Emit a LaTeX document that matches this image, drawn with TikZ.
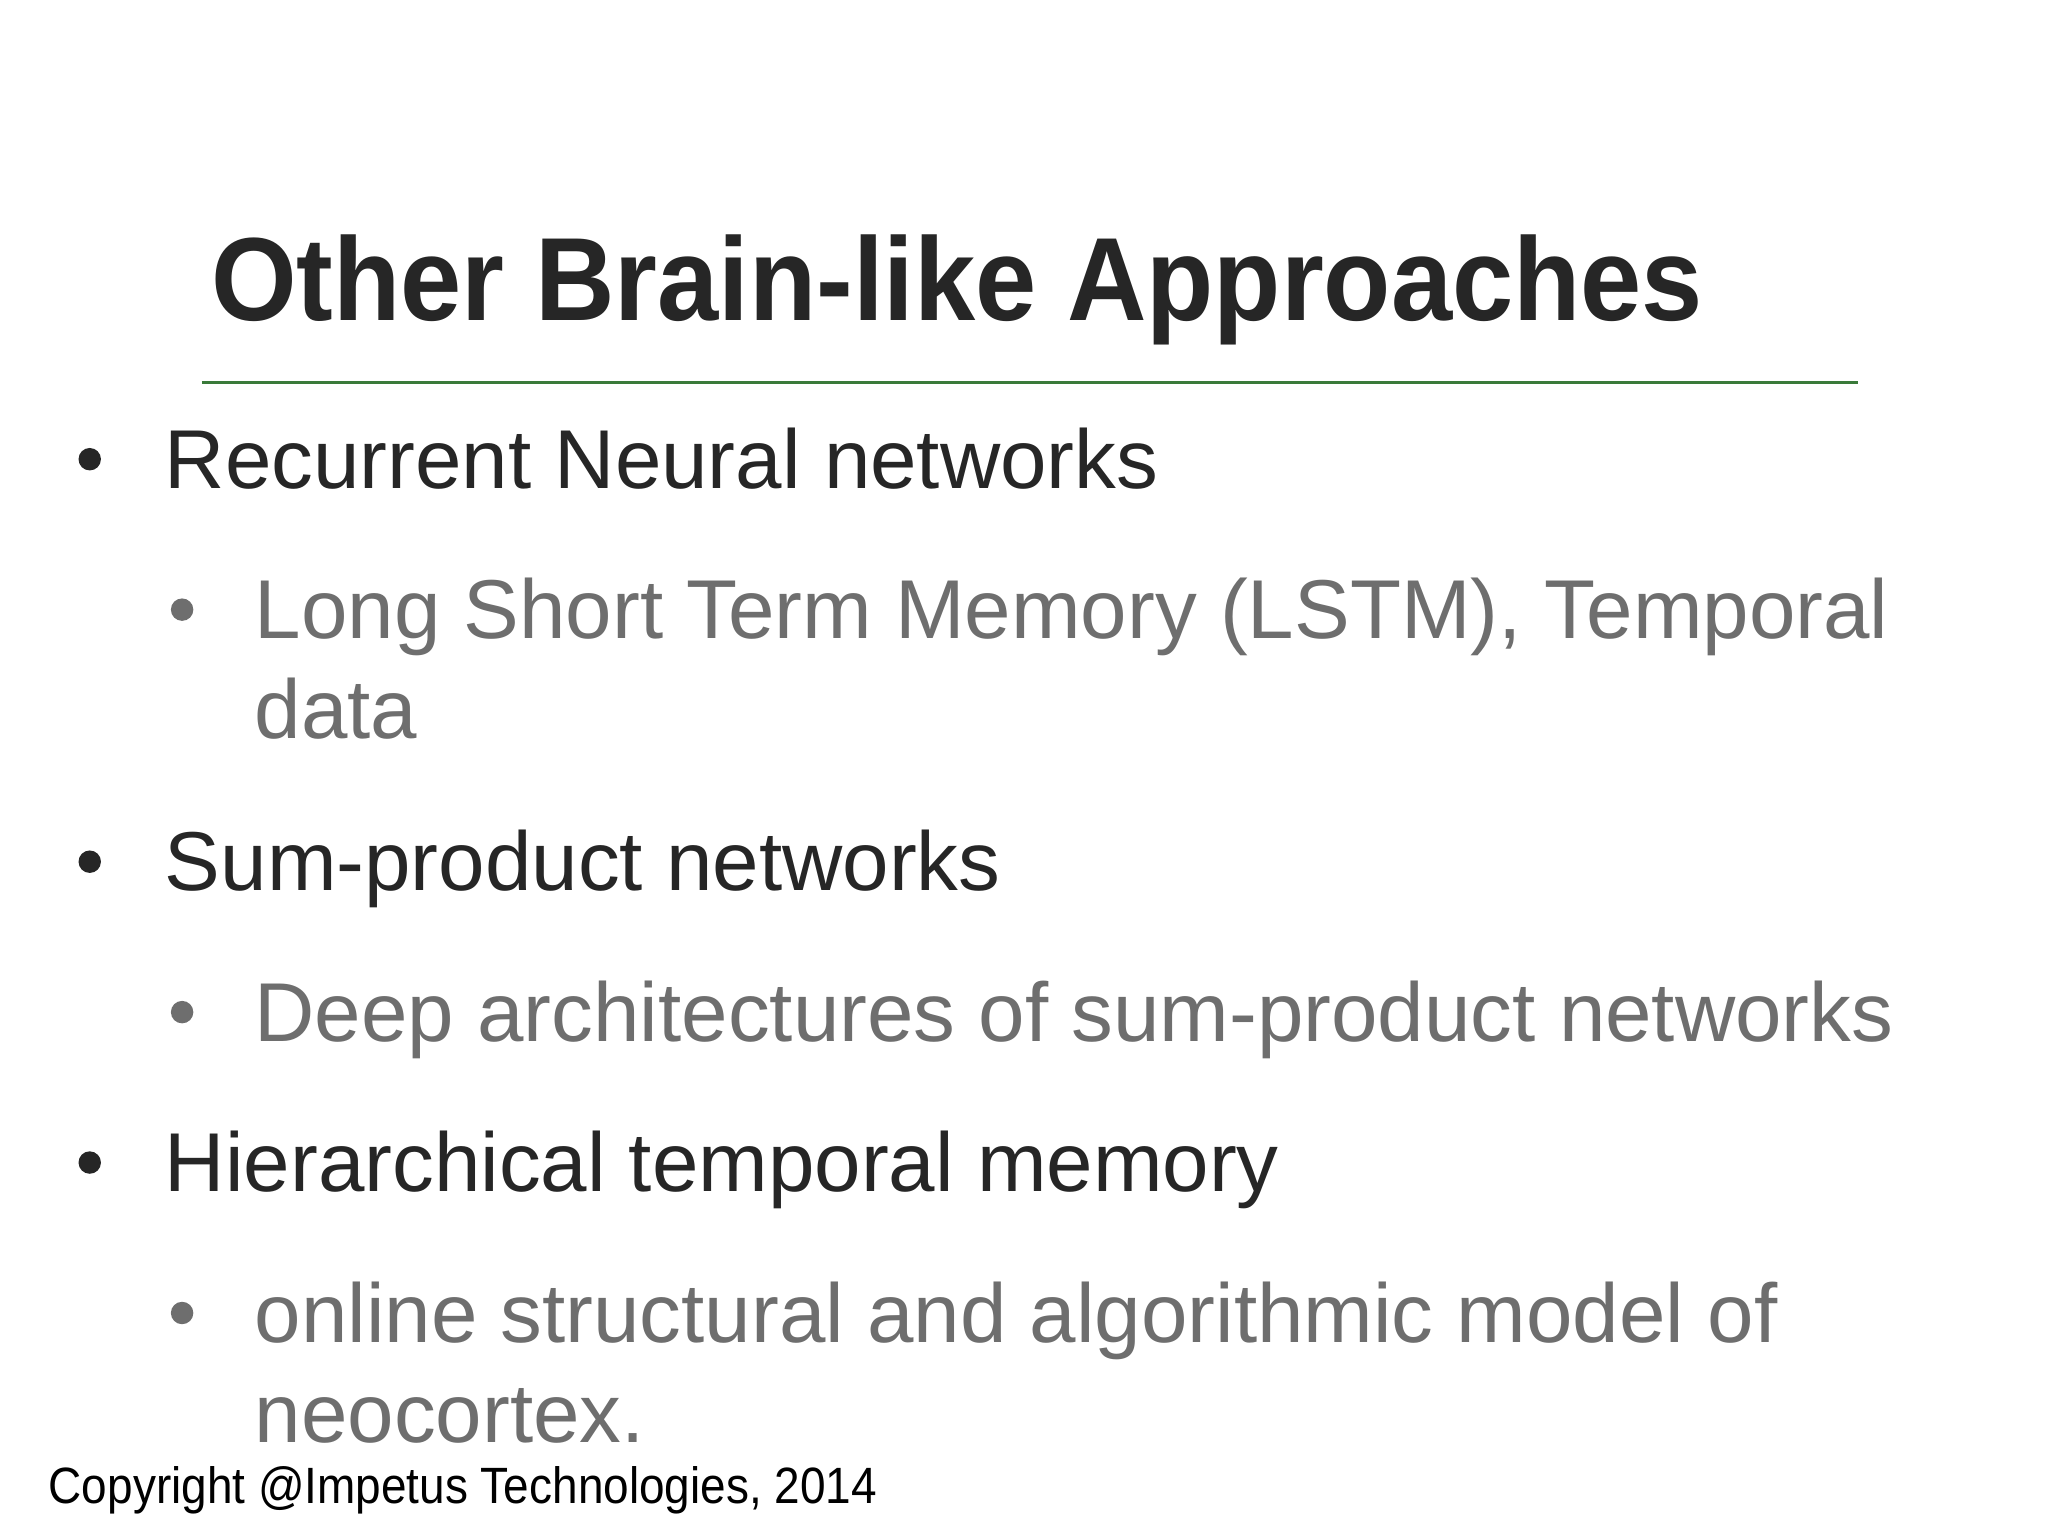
\documentclass[tikz,border=0pt]{standalone}
\usepackage{fontspec}
\setmainfont{Liberation Sans}
\newfontfamily\titlefont[FakeStretch=0.93]{Liberation Sans}
\newfontfamily\copyfont[FakeStretch=0.9]{Liberation Sans}
\definecolor{dark}{HTML}{262626}
\definecolor{sub}{HTML}{6E6E6E}
\definecolor{rule}{HTML}{3A7A3A}
\begin{document}
\begin{tikzpicture}[x=0.01cm,y=-0.01cm,
  every node/.style={inner sep=0pt,outer sep=0pt,anchor=base west},
  main/.style={text=dark,font=\fontsize{18pt}{22pt}\selectfont},
  subt/.style={text=sub,font=\fontsize{18pt}{22pt}\selectfont},
  dot/.style={circle,fill=#1,minimum size=0.17cm,anchor=center}]
\useasboundingbox (0,0) rectangle (1552,1164);
\node[text=dark,font=\fontsize{25.5pt}{30pt}\titlefont\bfseries] (title) at (160,243) {Other Brain-like Approaches};
\draw[rule,line width=0.7pt] (153,290) coordinate (r1) -- (1408,290) coordinate (r2);
\node[dot=dark] (b1) at (68,348) {};
\node[main] (t1) at (125,370) {Recurrent Neural networks};
\node[dot=sub] (b2) at (138,462) {};
\node[subt] (t2) at (193,484) {Long Short Term Memory (LSTM), Temporal};
\node[subt] (t2b) at (193,560) {data};
\node[dot=dark] (b3) at (68,653) {};
\node[main] (t3) at (125,675) {Sum-product networks};
\node[dot=sub] (b4) at (138,767) {};
\node[subt] (t4) at (193,789) {Deep architectures of sum-product networks};
\node[dot=dark] (b5) at (68,881) {};
\node[main] (t5) at (125,903) {Hierarchical temporal memory};
\node[dot=sub] (b6) at (138,995) {};
\node[subt] (t6) at (193,1017) {online structural and algorithmic model of};
\node[subt] (t6b) at (193,1093) {neocortex.};
\node[text=black,font=\fontsize{11pt}{13pt}\copyfont] (c) at (37,1139) {Copyright @Impetus Technologies, 2014};
\end{tikzpicture}
\end{document}
